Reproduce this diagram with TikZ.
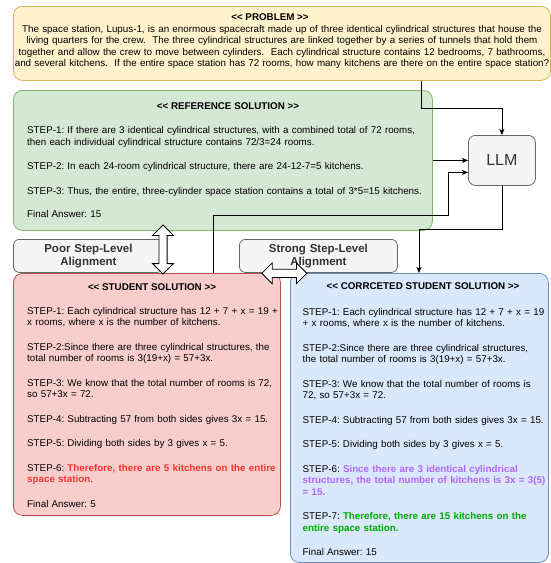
\documentclass[tikz,border=0pt]{standalone}
\usepackage{fontspec}
\setmainfont{Liberation Sans}
\usetikzlibrary{arrows.meta,shapes.arrows}
\frenchspacing
\definecolor{problem area}{HTML}{FFF2CC}
\definecolor{problem edge}{HTML}{D6B656}
\definecolor{reference area}{HTML}{D5E8D4}
\definecolor{reference edge}{HTML}{82B366}
\definecolor{student area}{HTML}{F8CECC}
\definecolor{student edge}{HTML}{B85450}
\definecolor{corrected area}{HTML}{DAE8FC}
\definecolor{corrected edge}{HTML}{6C8EBF}
\definecolor{label area}{HTML}{F5F5F5}
\definecolor{label edge}{HTML}{666666}
\definecolor{label text}{HTML}{333333}
\definecolor{wrong step}{HTML}{FF3333}
\definecolor{fixed step}{HTML}{B266FF}
\definecolor{right step}{HTML}{00AA00}
\def\lquo{<\kern0pt<}
\def\rquo{>\kern0pt>}
\tikzset{box/.style={draw, rounded corners=9pt, line width=0.8pt, inner sep=0pt, anchor=north west},
	problem/.style={box, fill=problem area, draw=problem edge},
	reference/.style={box, fill=reference area, draw=reference edge},
	student/.style={box, fill=student area, draw=student edge},
	corrected/.style={box, fill=corrected area, draw=corrected edge},
	labelbox/.style={box, rounded corners=6pt, fill=label area, draw=label edge, text=label text,
		align=center, font=\fontsize{11.5}{13.3}\selectfont\bfseries},
	llmbox/.style={box, rounded corners=7pt, fill=label area, draw=label edge, text=label text,
		font=\fontsize{16}{18}\selectfont},
	head/.style={anchor=base, inner sep=0pt, font=\fontsize{9.8}{11.5}\selectfont\bfseries},
	steptext/.style={anchor=base west, text width=#1, align=left, inner sep=0pt,
		font=\fontsize{9.8}{11.5}\selectfont},
	link/.style={-{Stealth[length=6pt,width=5pt,inset=1.5pt]}, line width=0.8pt},
	dblarrow/.style={double arrow, draw, fill=white, line width=0.8pt, inner sep=3.7pt,
		minimum width=1pt, double arrow head extend=6.3pt}}
\begin{document}
\begin{tikzpicture}[x=1pt,y=-1pt]
	\useasboundingbox (0,0) rectangle (551,563);
	% boxes
	\node[problem, minimum width=537pt, minimum height=74pt] (prob) at (13,6) {};
	\node[reference, minimum width=419pt, minimum height=140pt] (ref) at (13,90) {};
	\node[labelbox, text width=150pt, minimum height=33pt] (poor) at (13,239) {Poor Step-Level\\Alignment};
	\node[labelbox, text width=158pt, minimum height=33pt] (strong) at (239,239) {Strong Step-Level\\Alignment};
	\node[student, minimum width=267pt, minimum height=242pt] (stud) at (13,273) {};
	\node[corrected, minimum width=258pt, minimum height=289pt] (corr) at (290,273) {};
	\node[llmbox, minimum width=67pt, minimum height=50pt] (llm) at (468,135) {LLM};
	
	\node[head] (probhead) at (270,20.5) {\lquo{} PROBLEM \rquo};
	\node[steptext=580pt, anchor=base, align=center] (probtext) at (282,32) {The space station, Lupus-1, is an enormous spacecraft made up of three identical cylindrical structures that house the\hspace*{24pt}\\
		living quarters for the crew.\ \ The three cylindrical structures are linked together by a series of tunnels that hold them\hspace*{24pt}\\
		together and allow the crew to move between cylinders.\ \ Each cylindrical structure contains 12 bedrooms, 7 bathrooms,\\
		and several kitchens.\ \ If the entire space station has 72 rooms, how many kitchens are there on the entire space station?};
	
	\node[head] (refhead) at (228,109.5) {\lquo{} REFERENCE SOLUTION \rquo};
	\node[steptext=410pt] (refsteps) at (27,133.5) {STEP-1: If there are 3 identical cylindrical structures, with a combined total of 72 rooms,\\
		then each individual cylindrical structure contains 72/3=24 rooms.\\[13pt]
		STEP-2: In each 24-room cylindrical structure, there are 24-12-7=5 kitchens.\\[13pt]
		STEP-3: Thus, the entire, three-cylinder space station contains a total of 3*5=15 kitchens.\\[12pt]
		Final Answer: 15};
	
	\node[head] (studhead) at (152,290) {\lquo{} STUDENT SOLUTION \rquo};
	\node[steptext=260pt] (studsteps) at (27,314) {STEP-1: Each cylindrical structure has 12 + 7 + x = 19 +\\
		x rooms, where x is the number of kitchens.\\[13pt]
		STEP-2:Since there are three cylindrical structures, the\\
		total number of rooms is 3(19+x) = 57+3x.\\[13pt]
		STEP-3: We know that the total number of rooms is 72,\\
		so 57+3x = 72.\\[13pt]
		STEP-4: Subtracting 57 from both sides gives 3x = 15.\\[13pt]
		STEP-5: Dividing both sides by 3 gives x = 5.\\[13pt]
		STEP-6: {\bfseries\color{wrong step}Therefore, there are 5 kitchens on the entire\\
		space station}.\\[13pt]
		Final Answer: 5};
	
	\node[head] (corrhead) at (423,289) {\lquo{} CORRCETED STUDENT SOLUTION \rquo};
	\node[steptext=250pt] (corrsteps) at (302.5,315) {STEP-1: Each cylindrical structure has 12 + 7 + x = 19\\
		+ x rooms, where x is the number of kitchens.\\[13pt]
		STEP-2:Since there are three cylindrical structures,\\
		the total number of rooms is 3(19+x) = 57+3x.\\[13pt]
		STEP-3: We know that the total number of rooms is\\
		72, so 57+3x = 72.\\[13pt]
		STEP-4: Subtracting 57 from both sides gives 3x = 15.\\[13pt]
		STEP-5: Dividing both sides by 3 gives x = 5.\\[13pt]
		STEP-6: {\bfseries\color{fixed step}Since there are 3 identical cylindrical\\
		structures, the total number of kitchens is 3x = 3(5)\\
		= 15.}\\[13pt]
		STEP-7: {\bfseries\color{right step}Therefore, there are 15 kitchens on the\\
		entire space station.}\\[13pt]
		Final Answer: 15};
	
	% connectors
	\draw[link] (prob.south -| 421,0) |- (llm.north |- 0,108) -- (llm.north);
	\draw[link] (ref.east |- llm.west) -- (llm.west);
	\draw[link] (stud.north -| 213,0) |- (448,215) |- ([yshift=-12pt]llm.west);
	\draw[link] (llm.south) |- (419,229) -- (corr.north -| 419,0);
	
	\node[dblarrow, minimum height=49pt, rotate=90] (poorlink) at (163,249.5) {};
	\node[dblarrow, minimum height=45pt] (stronglink) at (284.3,273.3) {};
\end{tikzpicture}
\end{document}
